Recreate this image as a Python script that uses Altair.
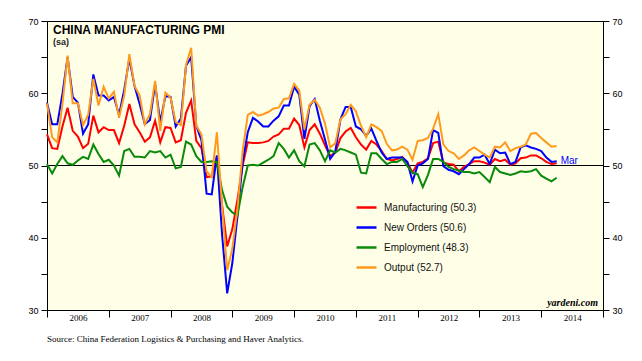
import altair as alt
import pandas as pd

# Monthly readings, Dec 2005 .. Mar 2014 (plotted at month end)
months = pd.date_range("2005-12-31", periods=100, freq="ME")

manufacturing = [
    54.3, 52.4, 52.3, 55.4, 58.0, 54.8, 54.0, 52.4, 53.0, 56.9, 54.6, 55.3,
    54.9, 54.9, 53.1, 55.5, 58.5, 55.7, 54.6, 53.3, 53.9, 56.2, 53.2, 55.3,
    55.2, 53.2, 53.5, 57.3, 59.0, 53.4, 52.4, 48.4, 48.5, 51.2, 44.6, 38.8,
    41.2, 45.3, 50.0, 53.2, 53.1, 53.1, 53.2, 53.4, 54.0, 54.3, 55.1, 55.1,
    56.5, 55.6, 52.5, 54.9, 55.7, 54.4, 52.8, 51.3, 51.8, 53.8, 54.7, 55.2,
    53.9, 52.9, 52.2, 53.4, 52.9, 52.0, 50.9, 50.7, 50.9, 51.2, 50.4, 49.0,
    50.3, 50.5, 51.0, 53.1, 53.3, 50.4, 50.2, 50.1, 49.2, 49.8, 50.2, 50.6,
    50.6, 50.4, 50.1, 50.9, 50.6, 50.8, 50.1, 50.3, 51.0, 51.1, 51.4, 51.4,
    51.0, 50.5, 50.2, 50.3,
]
new_orders = [
    58.7, 55.7, 55.7, 59.9, 65.0, 59.5, 58.7, 54.4, 55.7, 62.6, 59.7, 59.7,
    59.0, 59.5, 57.0, 60.5, 64.8, 61.0, 58.5, 55.7, 56.3, 61.3, 56.0, 59.6,
    59.5, 55.4, 56.5, 63.8, 65.0, 55.5, 53.5, 46.1, 46.0, 51.4, 40.5, 32.3,
    36.5, 43.0, 50.5, 54.6, 56.6, 56.1, 55.4, 55.4, 56.2, 56.8, 58.3, 58.3,
    60.9, 59.8, 53.7, 58.2, 59.2, 56.2, 53.6, 50.9, 51.9, 56.4, 58.1, 58.1,
    55.4, 55.0, 54.1, 55.1, 53.4, 51.8, 50.9, 51.1, 51.1, 51.1, 50.5, 47.8,
    50.0, 50.3, 50.9, 54.9, 54.5, 49.9, 49.4, 49.2, 48.8, 49.5, 50.2, 51.1,
    51.1, 51.5, 50.2, 52.2, 51.7, 51.8, 50.2, 50.5, 52.5, 52.8, 52.5, 52.3,
    52.0, 51.1, 50.5, 50.6,
]
employment = [
    50.2, 48.9, 50.2, 51.3, 50.3, 50.1, 50.7, 51.2, 50.9, 52.9, 51.6, 50.5,
    50.8, 50.0, 48.6, 52.0, 52.3, 51.2, 51.2, 51.1, 52.0, 51.8, 52.0, 51.1,
    51.5, 49.6, 49.8, 53.3, 52.9, 51.3, 50.5, 50.5, 50.6, 50.5, 46.6, 44.3,
    43.5, 43.1, 47.0, 50.0, 50.1, 50.0, 50.4, 50.8, 51.3, 53.1, 52.3, 51.1,
    52.1, 50.6, 49.9, 52.9, 53.1, 52.1, 50.6, 52.1, 51.8, 52.3, 52.1, 51.8,
    51.5, 49.0, 48.9, 51.7, 51.7, 50.9, 50.2, 50.5, 50.5, 50.9, 49.9, 49.0,
    48.8, 47.0, 48.7, 50.9, 50.9, 50.5, 49.8, 49.5, 49.3, 49.1, 49.1, 48.9,
    49.1, 48.4, 47.7, 49.8, 49.1, 48.9, 48.7, 48.9, 49.2, 49.1, 49.2, 49.5,
    48.6, 48.2, 47.8, 48.3,
]
output = [
    58.6, 53.9, 53.2, 58.5, 65.2, 58.6, 58.6, 55.6, 57.0, 62.0, 58.3, 60.9,
    59.3, 60.2, 56.6, 59.7, 65.4, 61.0, 59.7, 55.7, 57.1, 61.7, 54.8, 60.1,
    59.4, 56.0, 55.6, 63.9, 66.3, 55.5, 54.3, 49.2, 48.4, 54.6, 44.5, 35.5,
    38.5, 44.0, 52.0, 57.0, 57.4, 56.9, 57.1, 57.4, 57.9, 58.0, 59.2, 59.3,
    61.3, 60.4, 55.0, 58.4, 59.1, 58.0, 55.8, 52.5, 53.1, 56.4, 57.1, 58.4,
    57.5, 55.5, 53.9, 55.7, 55.3, 54.8, 53.0, 52.1, 52.2, 52.6, 52.2, 50.8,
    53.4, 53.5, 53.8, 55.1, 57.1, 52.9, 52.0, 51.7, 50.9, 51.4, 52.1, 52.5,
    52.0, 51.5, 51.1, 52.6, 52.5, 53.2, 52.0, 52.4, 52.6, 52.9, 54.4, 54.5,
    53.8, 53.2, 52.6, 52.7,
]

series_names = ["Manufacturing", "New Orders", "Employment", "Output"]
series_values = [manufacturing, new_orders, employment, output]
series_colors = ["#FF0000", "#0000FF", "#0A8A0A", "#FF9A1E"]
year_ticks = list(range(2006, 2016))
y_ticks = [30, 35, 40, 45, 50, 55, 60, 65, 70]

labels = [f"{n} ({v[-1]:.1f})" for n, v in zip(series_names, series_values)]
rows = []
for lab, vals in zip(labels, series_values):
    for d, v in zip(months, vals):
        rows.append({"t": d.year + d.month / 12.0, "value": v, "series": lab})
df = pd.DataFrame(rows)

W, H = 556, 289
x_scale = alt.Scale(domain=[2006, 2015], nice=False, zero=False)
y_scale = alt.Scale(domain=[30, 70], nice=False, zero=False)

x_enc = alt.X(
    "t:Q", scale=x_scale, title=None,
    axis=alt.Axis(
        values=year_ticks, labelExpr="datum.value < 2015 ? toString(datum.value) : ''",
        labelOffset=31, tickSize=7, labelPadding=-4, labelFont="Liberation Serif",
        labelFontSize=9, labelColor="#000", tickColor="#000", domainColor="#000",
        labelOverlap=False, labelFlush=False, labelBound=False, grid=False,
    ),
)

y_axis_common = dict(
    values=y_ticks, labelExpr="datum.value % 10 == 0 ? datum.label : ''",
    tickSize=6, labelPadding=3, labelFont="Liberation Sans", labelFontSize=9,
    labelColor="#000", tickColor="#000", domainColor="#000", grid=False,
    labelOverlap=False,
)

lines = alt.Chart(df).mark_line(strokeWidth=2).encode(
    x=x_enc,
    y=alt.Y("value:Q", scale=y_scale, title=None,
            axis=alt.Axis(orient="left", **y_axis_common)),
    color=alt.Color(
        "series:N",
        scale=alt.Scale(domain=labels, range=series_colors),
        legend=alt.Legend(
            title=None, orient="none", legendX=308, legendY=175,
            symbolType="stroke", symbolSize=400, symbolStrokeWidth=2.5,
            labelFont="Liberation Sans", labelFontSize=10, labelColor="#111",
            labelOffset=6, rowPadding=3, padding=0,
        ),
    ),
    order=alt.value(0),
)

rule50 = alt.Chart(pd.DataFrame({"value": [50]})).mark_rule(
    color="black", strokeWidth=1
).encode(
    y=alt.Y("value:Q", scale=y_scale, title=None,
            axis=alt.Axis(orient="right", **y_axis_common)),
)

last_blue = pd.DataFrame({"t": [df[df.series == labels[1]].t.iloc[-1]],
                          "value": [new_orders[-1]], "text": ["Mar"]})
mar_text = alt.Chart(last_blue).mark_text(
    align="left", baseline="middle", dx=4, color="#0000FF",
    font="Liberation Sans", fontSize=10,
).encode(
    x=x_enc,
    y=alt.Y("value:Q", scale=y_scale, axis=None),
    text="text:N",
)

title = alt.Chart(pd.DataFrame({"text": ["CHINA MANUFACTURING PMI"]})).mark_text(
    align="left", baseline="alphabetic", font="Liberation Sans",
    fontSize=12, fontWeight="bold", color="#000",
).encode(x=alt.value(6), y=alt.value(13), text="text:N")

subtitle = alt.Chart(pd.DataFrame({"text": ["(sa)"]})).mark_text(
    align="left", baseline="alphabetic", font="Liberation Sans",
    fontSize=9, fontWeight="bold", color="#222",
).encode(x=alt.value(6), y=alt.value(24), text="text:N")

brand = alt.Chart(pd.DataFrame({"text": ["yardeni.com"]})).mark_text(
    align="right", baseline="alphabetic", font="Liberation Serif",
    fontSize=10, fontStyle="italic", fontWeight="bold", color="#000",
).encode(x=alt.value(551), y=alt.value(285), text="text:N")

source = alt.Chart(pd.DataFrame({"text": [
    "Source: China Federation Logistics & Purchasing and Haver Analytics."
]})).mark_text(
    align="left", baseline="alphabetic", font="Liberation Serif",
    fontSize=9, color="#000",
).encode(x=alt.value(0), y=alt.value(321), text="text:N")

chart = alt.layer(
    rule50, lines, mar_text, title, subtitle, brand, source
).resolve_scale(y="shared").resolve_axis(y="independent").properties(
    width=W, height=H,
    autosize=alt.AutoSizeParams(type="none"),
    padding={"left": 39, "top": 13, "right": 31, "bottom": 40},
).configure_view(
    fill="#FFFFE8", stroke="black", strokeWidth=1
)

chart.save("out.html", embed_options={"renderer": "svg", "actions": False})
